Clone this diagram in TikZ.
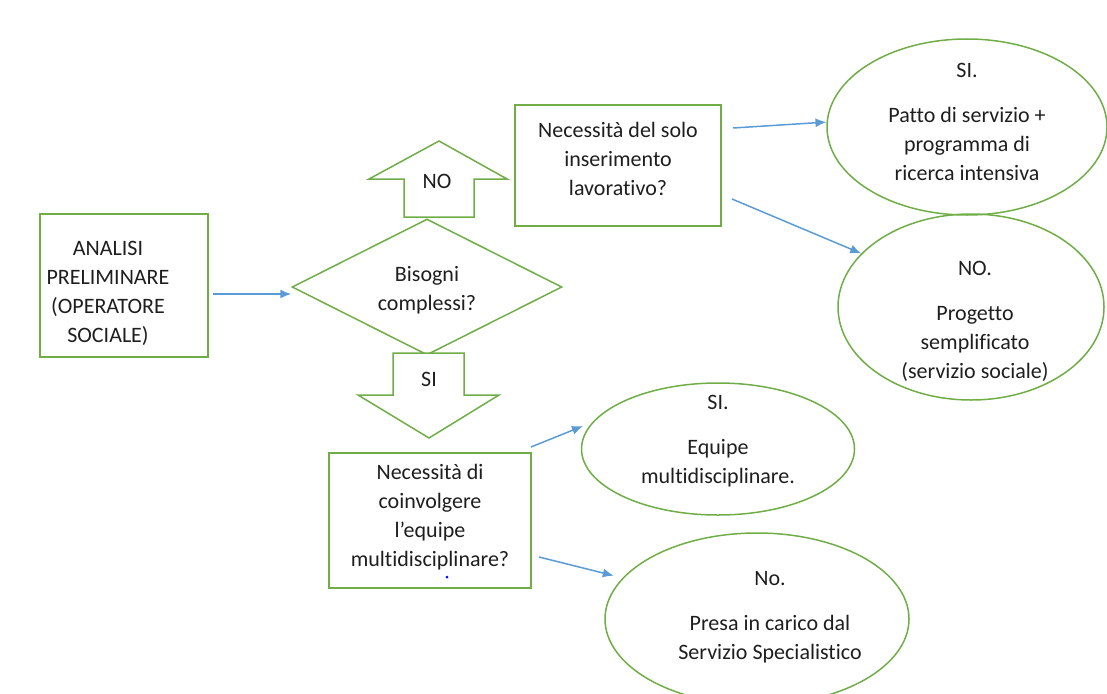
\documentclass[tikz,border=0pt]{standalone}
\usepackage{fontspec}
\setmainfont{Carlito}[Ligatures={NoCommon}]
\usetikzlibrary{arrows.meta,shapes.geometric}
\definecolor{grn}{HTML}{70AD47}
\definecolor{blu}{HTML}{5B9BD5}
\definecolor{txtc}{HTML}{1E1E1E}
\begin{document}
\begin{tikzpicture}[x=1pt,y=-1pt,
  gline/.style={draw=grn, line width=1.5pt},
  box/.style={gline, rectangle, inner sep=0pt},
  oval/.style={gline, ellipse, inner sep=0pt},
  txt/.style={align=center, font=\fontsize{22}{29}\selectfont, text=txtc, inner sep=0pt},
  conn/.style={draw=blu, line width=1.5pt, -{Latex[length=11pt,width=9pt]}},
]
\useasboundingbox (0,0) rectangle (1107,693);

% boxes
\node[box, minimum width=168pt, minimum height=143pt] (a) at (124,285.5) {};
\node[txt] (at) at (108,293.5) {ANALISI\\PRELIMINARE\\(OPERATORE\\SOCIALE)};

\node[gline, diamond, aspect=2, minimum width=270pt, minimum height=136pt, inner sep=0pt] (d) at (427,287) {};
\node[txt] (dt) at (427,290) {Bisogni\\complessi?};

\node[box, minimum width=206pt, minimum height=121pt] (b1) at (618,165.5) {};
\node[txt] (b1t) at (618,159) {Necessità del solo\\inserimento\\lavorativo?};

\node[box, minimum width=202pt, minimum height=135pt] (b2) at (430,520.5) {};
\node[txt] (b2t) at (430,517) {Necessità di\\coinvolgere\\l’equipe\\multidisciplinare?};
\node[circle, fill=blue, inner sep=0pt, minimum size=3pt] (dot) at (447,577) {};

% ellipses
\node[oval, minimum width=280pt, minimum height=176pt] (e1) at (967,127) {};
\node[txt] (e1t) at (967,121.5) {SI.\\[16pt]Patto di servizio +\\programma di\\ricerca intensiva};

\node[oval, minimum width=266pt, minimum height=186pt] (e2) at (971,307) {};
\node[txt] (e2t) at (975,321.5) {NO.\\[16pt]Progetto\\semplificato\\(servizio sociale)};

\node[oval, minimum width=273pt, minimum height=132pt] (e3) at (718,449) {};
\node[txt] (e3t) at (718,441) {SI.\\[16pt]Equipe\\multidisciplinare.};

\node[oval, minimum width=304pt, minimum height=172pt] (e4) at (757,619) {};
\node[txt] (e4t) at (770,617.5) {No.\\[16pt]Presa in carico dal\\Servizio Specialistico};

% block arrows
\draw[gline, fill=white] (404,217) -- (404,179) -- (369,179) -- (439,141) -- (507,179) -- (474,179) -- (474,217) -- cycle;
\node[txt] (no) at (437,181) {NO};
\draw[gline, fill=white] (393,353) -- (464,353) -- (464,395) -- (499,395) -- (429,438) -- (358,395) -- (393,395) -- cycle;
\node[txt] (si) at (429,379) {SI};

% connectors
\coordinate (s1) at (213,294);
\coordinate (s2) at (733,128);
\coordinate (s3) at (732,199);
\coordinate (s4) at (531,447);
\coordinate (s5) at (539,557);
\draw[conn] (s1) -- (s1 -| d.west);
\draw[conn] (s2) -- (e1.178);
\draw[conn] (s3) -- (e2.154);
\draw[conn, shorten >=10pt] (s4) -- (e3.168);
\draw[conn, shorten >=9pt] (s5) -- (e4.163);
\end{tikzpicture}
\end{document}
